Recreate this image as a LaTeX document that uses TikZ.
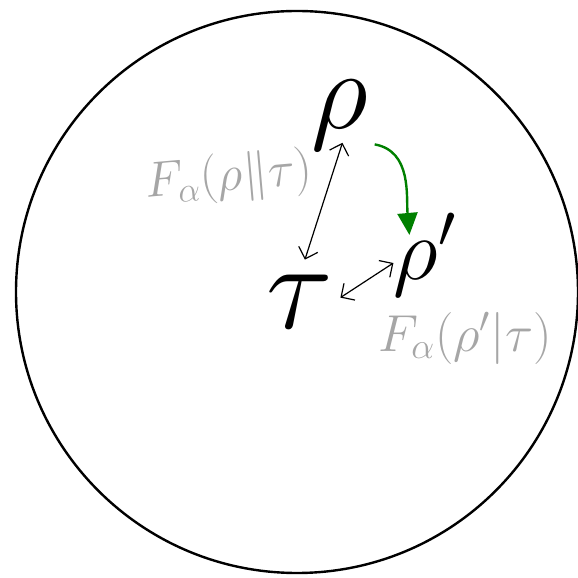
\RequirePackage{fix-cm}
\documentclass[tikz,border=0pt]{standalone}
\usepackage{amsmath}
\usetikzlibrary{arrows.meta}
\begin{document}
\begin{tikzpicture}[x=0.5pt,y=0.5pt,
  state/.style={inner sep=0pt,font=\fontsize{50}{52}\selectfont},
  fid/.style={text=black!35,inner sep=0pt,font=\fontsize{25}{27}\selectfont},
  dist/.style={{Straight Barb[length=5pt]}-{Straight Barb[length=5pt]},line width=0.6pt},
  move/.style={-{Triangle[length=11pt,width=10pt]},draw=green!50!black,line width=1.2pt}]
\useasboundingbox (0,0) rectangle (578,578);
\draw[line width=1.2pt] (297,286) circle [radius=140.5pt];
% states
\node[state,font=\fontsize{56}{58}\selectfont] (rho) at (340,463) {$\rho$};
\node[state,font=\fontsize{62}{64}\selectfont] (tau) at (300,276) {$\tau$};
\node[state,font=\fontsize{44}{46}\selectfont] (rhop) at (425,323) {$\rho'$};
% fidelities
\node[fid,rotate=5] (f1) at (229,400) {$F_\alpha(\rho\|\tau)$};
\node[fid,font=\fontsize{26}{28}\selectfont] (f2) at (465,240) {$F_\alpha(\rho'|\tau)$};
% connectors
\draw[dist,shorten <=-4pt,shorten >=8pt] (rho.south) -- (tau.north);
\draw[dist,shorten <=4pt] (tau.east) -- ([yshift=-4pt]rhop.west);
\draw[move] ([xshift=3pt,yshift=3pt]rho.south east) to[out=-10,in=95] ([shift={(8pt,-11pt)}]rhop.north west);
\end{tikzpicture}
\end{document}
